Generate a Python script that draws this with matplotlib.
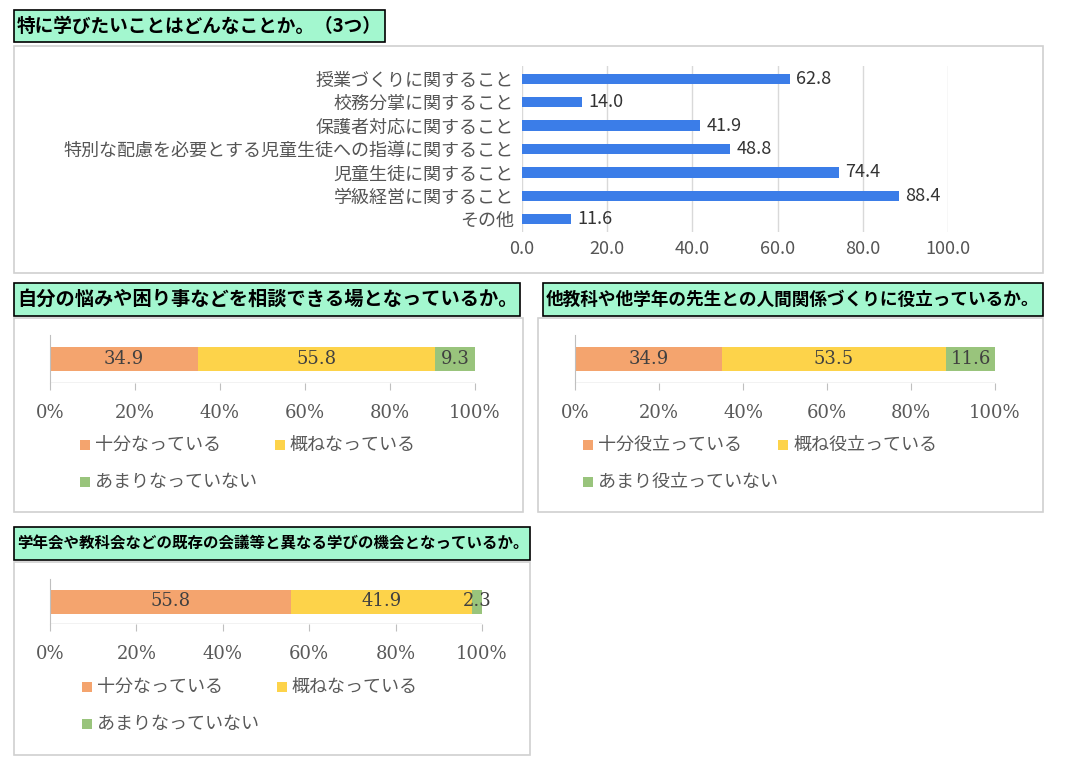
import numpy as np
import matplotlib.pyplot as plt
from matplotlib.patches import Rectangle

plt.rcParams['font.family'] = 'Noto Sans CJK JP'

W, H = 1072, 765

# data
topics = ['授業づくりに関すること', '校務分掌に関すること', '保護者対応に関すること',
          '特別な配慮を必要とする児童生徒への指導に関すること', '児童生徒に関すること',
          '学級経営に関すること', 'その他']
topic_vals = [62.8, 14.0, 41.9, 48.8, 74.4, 88.4, 11.6]

q2_vals = [34.9, 55.8, 9.3]
q3_vals = [34.9, 53.5, 11.6]
q4_vals = [55.8, 41.9, 2.3]
q2_legend = ['十分なっている', '概ねなっている', 'あまりなっていない']
q3_legend = ['十分役立っている', '概ね役立っている', 'あまり役立っていない']
q4_legend = q2_legend

seg_colors = ['#f4a46e', '#fdd34a', '#99c47c']


def ax_px(x0, y0, x1, y1):
    return fig.add_axes([x0 / W, 1 - y1 / H, (x1 - x0) / W, (y1 - y0) / H])


def box(x0, y0, x1, y1, fc='none', ec='#d0d0d0', lw=1.2):
    fig.patches.append(Rectangle((x0 / W, 1 - y1 / H), (x1 - x0) / W, (y1 - y0) / H,
                                 transform=fig.transFigure, fc=fc, ec=ec, lw=lw))


def title(x0, y0, x1, y1, text):
    box(x0, y0, x1, y1, fc='#a3f7cf', ec='black', lw=1.2)
    t = fig.text((x0 + 3) / W, 1 - (y0 + y1) / 2 / H, text, fontsize=14.5, fontweight='bold',
                 va='center', ha='left')
    r = fig.canvas.get_renderer()
    w = t.get_window_extent(r).width
    room = x1 - x0 - 6
    if w > room:
        t.set_fontsize(14.5 * room / w)


fig = plt.figure(figsize=(W / 100, H / 100), dpi=100)

# top chart
title(14, 10, 385, 42, '特に学びたいことはどんなことか。（3つ）')
box(14, 46, 1043, 273)
ax = ax_px(522, 66, 948, 232)
y = np.arange(len(topics))
ax.barh(y, topic_vals, height=0.45, color='#3b7de8')
for yi, v in zip(y, topic_vals):
    ax.text(v + 1.5, yi, f'{v:.1f}', va='center', ha='left', fontsize=13, color='#333333')
ax.set_yticks(y)
ax.set_yticklabels(topics, fontsize=13, color='#555555')
ax.invert_yaxis()
ax.set_xlim(0, 100)
ax.set_xticks(np.arange(0, 101, 20))
ax.set_xticklabels([f'{t:.1f}' for t in range(0, 101, 20)], fontsize=13, color='#555555')
ax.grid(axis='x', color='#d9d9d9', lw=1)
ax.set_axisbelow(True)
for s in ax.spines.values():
    s.set_visible(False)
ax.tick_params(length=0, pad=6)


def stacked(x0, x1, yb0, yb1, vals, legend, lx, ly):
    a = ax_px(x0, yb0 - 12, x1, yb1 + 12)
    left = 0
    for v, c in zip(vals, seg_colors):
        a.barh(0, v, left=left, height=24 / (yb1 - yb0 + 24), color=c)
        a.text(left + v / 2, 0, f'{v:.1f}', ha='center', va='center', fontsize=13,
               color='#404040', family='DejaVu Serif')
        left += v
    a.set_xlim(0, 100)
    a.set_ylim(-0.5, 0.5)
    a.set_yticks([])
    a.set_xticks(np.arange(0, 101, 20))
    a.set_xticklabels([f'{t}%' for t in range(0, 101, 20)], fontsize=13, color='#595959',
                      family='DejaVu Serif')
    a.tick_params(axis='x', length=5, color='#bfbfbf', pad=10)
    for k in ['top', 'right', 'bottom']:
        a.spines[k].set_visible(False)
    a.spines['left'].set_color('#bfbfbf')
    a.axhline(-0.5, color='#bfbfbf', lw=1)
    pos = [(lx, ly), (lx + 195, ly), (lx, ly + 37)]
    for (px, py), lab, c in zip(pos, legend, seg_colors):
        box(px, py - 5, px + 10, py + 5, fc=c, ec='none')
        fig.text((px + 15) / W, 1 - py / H, lab, fontsize=13, color='#595959',
                 va='center', ha='left')


title(14, 283, 520, 316, '自分の悩みや困り事などを相談できる場となっているか。')
box(14, 318, 523, 512)
stacked(50, 475, 347, 371, q2_vals, q2_legend, 80, 445)

title(543, 283, 1043, 316, '他教科や他学年の先生との人間関係づくりに役立っているか。')
box(538, 318, 1043, 512)
stacked(575, 995, 347, 371, q3_vals, q3_legend, 583, 445)

title(14, 527, 530, 560, '学年会や教科会などの既存の会議等と異なる学びの機会となっているか。')
box(14, 562, 530, 755)
stacked(50, 482, 591, 612, q4_vals, q4_legend, 82, 687)

fig.savefig('out.png', dpi=100)
